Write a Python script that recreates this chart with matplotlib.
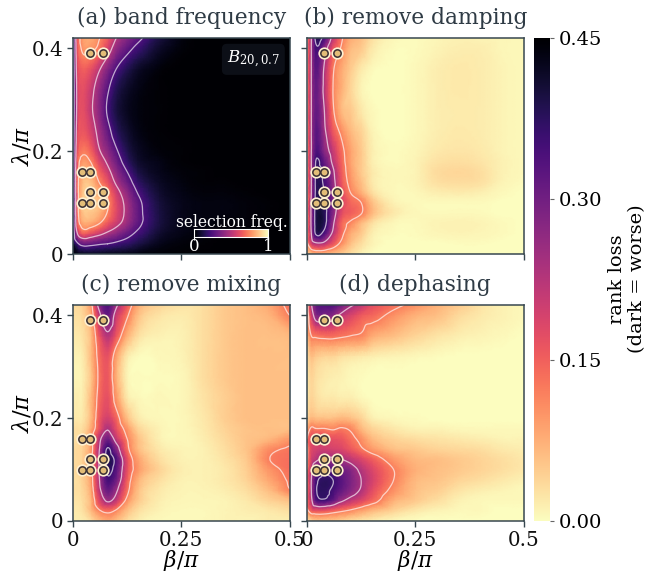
import numpy as np
import matplotlib
matplotlib.use("Agg")
import matplotlib.pyplot as plt
import matplotlib.tri as mtri

plt.rcParams["font.family"] = "DejaVu Serif"
plt.rcParams["mathtext.fontset"] = "dejavuserif"

W, H = 667, 571
slate = "#37474f"

beta = [0, .01, .02, .04, .06, .08, .1, .125, .15, .2, .25, .3, .35, .4, .45, .5]
lam = [0, .02, .04, .06, .08, .1, .12, .14, .16, .18, .2, .24, .28, .32, .36, .4, .42]

# values, one row per lambda
band_freq = [
    [.02, .04, .05, .06, .06, .05, .05, .04, .03, .015, .005, 0, 0, 0, 0, 0],
    [.08, .22, .3, .3, .27, .25, .22, .18, .13, .05, .02, .01, 0, 0, 0, 0],
    [.12, .5, .65, .62, .55, .47, .4, .31, .22, .09, .04, .02, .01, .01, 0, 0],
    [.15, .65, .8, .82, .76, .65, .55, .43, .29, .12, .05, .03, .02, .02, .01, 0],
    [.15, .68, .85, .88, .84, .74, .6, .46, .3, .12, .05, .03, .03, .02, .01, 0],
    [.15, .68, .87, .9, .87, .76, .6, .45, .29, .11, .05, .03, .03, .02, .01, 0],
    [.15, .68, .86, .9, .82, .72, .56, .4, .24, .09, .04, .02, .02, .01, 0, 0],
    [.15, .68, .84, .87, .75, .63, .47, .32, .18, .07, .03, .01, .01, 0, 0, 0],
    [.15, .68, .82, .82, .68, .55, .4, .25, .13, .05, .02, .01, 0, 0, 0, 0],
    [.15, .66, .78, .75, .6, .47, .33, .18, .09, .04, .01, 0, 0, 0, 0, 0],
    [.15, .62, .72, .68, .52, .4, .27, .14, .07, .02, .01, 0, 0, 0, 0, 0],
    [.14, .58, .64, .58, .45, .3, .17, .09, .04, .01, 0, 0, 0, 0, 0, 0],
    [.13, .55, .62, .53, .4, .23, .12, .06, .03, .01, 0, 0, 0, 0, 0, 0],
    [.13, .55, .62, .55, .42, .27, .15, .08, .04, .01, 0, 0, 0, 0, 0, 0],
    [.14, .58, .66, .63, .52, .38, .25, .15, .08, .02, 0, 0, 0, 0, 0, 0],
    [.15, .62, .76, .78, .72, .58, .42, .3, .21, .08, .02, 0, 0, 0, 0, 0],
    [.15, .64, .78, .82, .76, .65, .5, .38, .29, .12, .03, 0, 0, 0, 0, 0],
]
no_damping = [
    [.05, .06, .066, .066, .06, .05, .03, .01, 0, 0, 0, 0, 0, 0, 0, 0],
    [.104, .192, .224, .216, .16, .104, .06, .03, .01, 0, 0, 0, .002, .002, 0, 0],
    [.112, .24, .367, .336, .224, .136, .08, .05, .015, .003, .003, .008, .01, .008, .004, 0],
    [.112, .252, .379, .379, .252, .144, .112, .066, .03, .006, .004, .01, .012, .01, .004, 0],
    [.112, .252, .379, .379, .276, .176, .152, .124, .066, .02, .006, .004, .005, .004, 0, 0],
    [.112, .252, .373, .373, .288, .192, .144, .12, .06, .012, .004, .004, .004, .004, 0, 0],
    [.112, .24, .367, .36, .276, .176, .12, .074, .03, .006, .006, .015, .018, .014, .005, 0],
    [.112, .24, .367, .348, .264, .16, .104, .06, .02, .006, .01, .028, .032, .028, .01, .003],
    [.112, .24, .367, .336, .252, .152, .096, .05, .02, .006, .01, .032, .037, .03, .012, .005],
    [.112, .24, .36, .312, .224, .144, .088, .05, .015, .003, .01, .026, .03, .024, .012, .005],
    [.112, .24, .336, .276, .208, .136, .088, .05, .015, .003, .008, .02, .024, .02, .01, .005],
    [.112, .24, .324, .252, .16, .104, .066, .04, .01, 0, .005, .015, .02, .017, .01, .005],
    [.112, .24, .312, .24, .128, .066, .05, .02, .005, 0, .005, .015, .018, .017, .01, .005],
    [.112, .24, .312, .224, .12, .074, .04, .01, 0, 0, .005, .015, .02, .017, .01, .005],
    [.112, .24, .324, .232, .128, .08, .05, .02, .005, 0, .005, .015, .02, .017, .01, .005],
    [.112, .24, .348, .276, .168, .112, .066, .05, .02, .003, .003, .01, .015, .015, .008, .005],
    [.112, .24, .373, .336, .216, .128, .08, .06, .03, .006, .003, .008, .012, .01, .008, .005],
]
no_mixing = [
    [.015, .015, .015, .03, .06, .08, .06, .03, .015, .005, .005, .005, .01, .01, .015, .015],
    [.02, .02, .025, .06, .112, .136, .112, .06, .03, .01, .005, .005, .01, .015, .02, .03],
    [.025, .025, .03, .066, .176, .252, .208, .104, .05, .015, .008, .008, .01, .02, .04, .06],
    [.03, .03, .035, .08, .216, .312, .252, .136, .06, .02, .01, .01, .015, .03, .06, .116],
    [.03, .03, .04, .088, .232, .348, .3, .152, .074, .03, .012, .012, .02, .04, .08, .128],
    [.035, .035, .04, .096, .24, .373, .324, .168, .096, .04, .015, .012, .02, .045, .096, .136],
    [.035, .035, .04, .096, .24, .385, .336, .168, .088, .03, .012, .012, .025, .05, .116, .136],
    [.035, .035, .04, .088, .232, .367, .276, .136, .066, .02, .01, .012, .03, .055, .104, .128],
    [.03, .03, .035, .088, .216, .3, .208, .12, .06, .012, .006, .015, .035, .055, .066, .096],
    [.03, .03, .03, .074, .16, .232, .168, .096, .04, .01, .006, .018, .04, .055, .06, .06],
    [.02, .02, .02, .06, .152, .192, .144, .06, .02, .006, .006, .02, .045, .06, .06, .06],
    [.015, .015, .015, .06, .136, .168, .096, .02, .006, .006, .006, .025, .045, .06, .06, .06],
    [.01, .01, .012, .05, .128, .16, .074, .01, .003, .003, .006, .03, .05, .06, .06, .06],
    [.012, .012, .015, .06, .136, .168, .088, .02, .003, .006, .01, .03, .05, .06, .06, .06],
    [.02, .02, .025, .06, .16, .224, .16, .074, .03, .012, .012, .03, .05, .06, .06, .066],
    [.03, .03, .035, .08, .216, .312, .208, .128, .06, .025, .018, .03, .05, .06, .07, .12],
    [.035, .035, .04, .096, .264, .336, .252, .16, .08, .04, .025, .03, .05, .06, .08, .136],
]
dephasing = [
    [.03, .04, .05, .05, .05, .04, .03, .02, .015, .005, 0, 0, 0, 0, 0, 0],
    [.104, .152, .16, .16, .144, .128, .112, .088, .066, .04, .02, .01, .005, .005, 0, 0],
    [.128, .224, .324, .348, .312, .252, .216, .184, .144, .074, .05, .03, .012, .006, .005, .005],
    [.128, .24, .348, .373, .348, .312, .276, .232, .176, .104, .06, .045, .025, .015, .01, .005],
    [.128, .24, .336, .373, .36, .324, .288, .24, .192, .12, .066, .055, .04, .03, .02, .012],
    [.12, .224, .3, .336, .324, .3, .276, .224, .184, .12, .074, .06, .05, .04, .03, .02],
    [.112, .192, .224, .252, .252, .24, .216, .184, .152, .096, .066, .06, .05, .04, .03, .02],
    [.112, .176, .192, .2, .192, .184, .16, .128, .096, .06, .05, .04, .035, .03, .02, .015],
    [.12, .176, .184, .176, .168, .16, .136, .104, .066, .04, .03, .025, .02, .015, .01, .01],
    [.08, .128, .12, .12, .112, .124, .112, .066, .04, .02, .01, .01, .006, .005, .005, .005],
    [.04, .066, .06, .06, .06, .066, .06, .04, .015, .006, .003, 0, 0, 0, 0, 0],
    [.02, .04, .03, .02, .02, .015, .015, .006, 0, 0, 0, 0, 0, 0, 0, 0],
    [.02, .04, .03, .02, .015, .012, .006, .003, 0, 0, 0, 0, 0, 0, 0, 0],
    [.03, .06, .05, .04, .04, .03, .025, .02, .015, .01, .006, .003, 0, 0, 0, 0],
    [.06, .12, .128, .136, .136, .128, .12, .112, .08, .06, .04, .025, .015, .01, .005, 0],
    [.08, .192, .276, .288, .276, .224, .192, .16, .144, .104, .074, .06, .035, .02, .012, .005],
    [.088, .232, .312, .336, .336, .3, .252, .216, .176, .136, .104, .074, .05, .025, .012, .005],
]

peak_beta = [.02, .04, .07, .04, .07, .02, .04, .04, .07]
peak_lam = [.1, .1, .1, .12, .12, .16, .16, .39, .39]

titles = ["(a) band frequency", "(b) remove damping", "(c) remove mixing", "(d) dephasing"]
grids = [band_freq, no_damping, no_mixing, dephasing]
boxes = [(73, 38), (307, 38), (73, 305), (307, 305)]
beta_ticks = [0, .25, .5]
beta_labels = ["0", "0.25", "0.5"]
lam_ticks = [0, .2, .4]
lam_labels = ["0", "0.2", "0.4"]
freq_levels = [.25, .5, .75]
loss_levels = [.12, .24, .36]
cbar_ticks = [0, .15, .3, .45]


def px_axes(x, y, w, h):
    # x, y is the top left corner in pixels
    return fig.add_axes([x / W, 1 - (y + h) / H, w / W, h / H])


fig = plt.figure(figsize=(W / 100, H / 100), dpi=100)

bb, ll = np.meshgrid(beta, lam)
tri = mtri.Triangulation(bb.ravel(), ll.ravel())
refiner = mtri.UniformTriRefiner(tri)

for i in range(4):
    ax = px_axes(boxes[i][0], boxes[i][1], 216.5, 216)
    z = np.array(grids[i]).ravel()
    # smooth surface with matplotlib's own cubic tri interpolation
    fine_tri, fine_z = refiner.refine_field(z, mtri.CubicTriInterpolator(tri, z, kind="geom"), subdiv=3)
    if i == 0:
        ax.tripcolor(fine_tri, fine_z, cmap="magma", vmin=0, vmax=1, shading="gouraud")
        levels = freq_levels
    else:
        ax.tripcolor(fine_tri, fine_z, cmap="magma_r", vmin=0, vmax=.45, shading="gouraud")
        levels = loss_levels
    ax.tricontour(fine_tri, fine_z, levels=levels, colors="white", linewidths=.9, alpha=.65)
    ax.scatter(peak_beta, peak_lam, s=78, color="#fff0d0", linewidths=0, zorder=4)
    ax.scatter(peak_beta, peak_lam, s=28, color="#e3bd78", edgecolors="#3a3034", linewidths=1.1, zorder=5)
    ax.set_xlim(0, .5)
    ax.set_ylim(0, .42)
    ax.set_xticks(beta_ticks)
    ax.set_yticks(lam_ticks)
    ax.set_xticklabels(beta_labels if i >= 2 else [])
    ax.set_yticklabels(lam_labels if i % 2 == 0 else [])
    ax.tick_params(labelsize=14.3, length=4, width=1, color=slate, labelcolor="#111111", pad=3)
    for s in ax.spines.values():
        s.set_color(slate)
        s.set_linewidth(1.1)
    ax.set_title(titles[i], fontsize=15.7, color="#2f3b45", pad=10)
    if i >= 2:
        ax.set_xlabel(r"$\beta/\pi$", fontsize=15.5, labelpad=-1)
    if i % 2 == 0:
        ax.set_ylabel(r"$\lambda/\pi$", fontsize=16.5, labelpad=-1)
    if i == 0:
        ax.text(.955, .95, r"$B_{20,0.7}$", transform=ax.transAxes, ha="right", va="top",
                color="white", fontsize=12,
                bbox=dict(boxstyle="round,pad=0.3", fc="#10141c", ec="none", alpha=.8))
        ax.text(.993, .105, "selection freq.", transform=ax.transAxes, ha="right", va="bottom",
                color="white", fontsize=11.2)
        sub = px_axes(194, 229, 74, 8)
        sub.imshow(np.linspace(0, 1, 256)[None, :], cmap="magma", aspect="auto", extent=[0, 1, 0, 1])
        sub.set_xticks([0, 1])
        sub.set_xticklabels(["0", "1"], color="white", fontsize=12)
        sub.set_yticks([])
        sub.tick_params(length=2, color="white", pad=-1)
        for s in sub.spines.values():
            s.set_color("white")
            s.set_linewidth(.8)

cax = px_axes(534, 38, 16, 483)
cax.imshow(np.linspace(.45, 0, 256)[:, None], cmap="magma_r", vmin=0, vmax=.45, aspect="auto",
           extent=[0, 1, 0, .45])
cax.set_xticks([])
cax.yaxis.tick_right()
cax.set_yticks(cbar_ticks)
cax.set_yticklabels(["0.00", "0.15", "0.30", "0.45"])
cax.tick_params(labelsize=14, length=3, width=.8, color="#666666", pad=3)
for s in cax.spines.values():
    s.set_visible(False)
fig.text(627 / W, 1 - 279 / H, "rank loss\n(dark = worse)", rotation=90, ha="center", va="center",
         fontsize=14, linespacing=1.1)

fig.savefig("out.png", dpi=100)
